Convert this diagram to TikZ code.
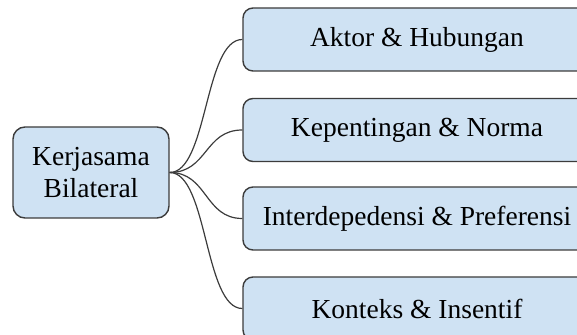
\documentclass[tikz,border=0pt]{standalone}
\usepackage{fontspec}
\setmainfont{Liberation Serif}
\definecolor{boxblue}{HTML}{CFE2F3}
\definecolor{boxline}{HTML}{3C3C3C}
\tikzset{
  rootbox/.style={rectangle,draw=boxline,fill=boxblue,line width=0.7pt,rounded corners=6pt,
    minimum width=78pt,minimum height=45.5pt,align=center,
    font=\fontsize{13.75}{16}\selectfont},
  topicbox/.style={rectangle,draw=boxline,fill=boxblue,line width=0.7pt,rounded corners=5pt,
    minimum width=174pt,minimum height=31.5pt,
    font=\fontsize{13.75}{16}\selectfont},
  branch/.style={draw=boxline,line width=0.6pt}
}
\begin{document}
\begin{tikzpicture}[x=0.5pt,y=-0.5pt]
        %\draw [very thin, green] (0,0) grid[step=50] (577,335);
        \useasboundingbox (0,0) rectangle (577,335);
        \clip (0,0) rectangle (577,335);

        \node at (91,172.5) [rootbox] (kb) {Kerjasama\\Bilateral};

        \node at (417,39.5) [topicbox] (ah) {Aktor \& Hubungan};
        \node at (417,130) [topicbox] (kn) {Kepentingan \& Norma};
        \node at (417,218.5) [topicbox] (ip) {Interdepedensi \& Preferensi};
        \node at (417,308.5) [topicbox] (ki) {Konteks \& Insentif};

        \draw [branch] (kb.east) .. controls +(38,0) and +(-38,0) .. (ah.west);
        \draw [branch] (kb.east) .. controls +(38,0) and +(-38,0) .. (kn.west);
        \draw [branch] (kb.east) .. controls +(38,0) and +(-38,0) .. (ip.west);
        \draw [branch] (kb.east) .. controls +(38,0) and +(-38,0) .. (ki.west);
\end{tikzpicture}
\end{document}
